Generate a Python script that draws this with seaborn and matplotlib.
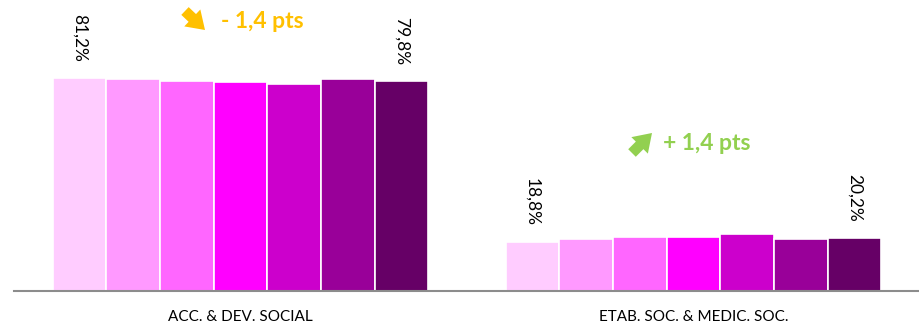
import matplotlib
matplotlib.use("Agg")
import matplotlib.pyplot as plt
from matplotlib.patches import FancyArrowPatch
import seaborn as sns
import pandas as pd

categories = ["ACC. & DEV. SOCIAL", "ETAB. SOC. & MEDIC. SOC."]
series = ["S1", "S2", "S3", "S4", "S5", "S6", "S7"]
values_acc = [81.2, 80.6, 79.9, 79.6, 78.7, 80.6, 79.8]
values_etab = [18.8, 19.7, 20.4, 20.5, 21.6, 19.8, 20.2]
colors = ["#FFCCFF", "#FF99FF", "#FF66FF", "#FF00FF", "#CC00CC", "#990099", "#660066"]
first_last_labels = [["81,2%", "79,8%"], ["18,8%", "20,2%"]]
evolution_texts = ["- 1,4 pts", "+ 1,4 pts"]
evolution_colors = ["#FFC000", "#92D050"]

rows = []
for cat, vals in zip(categories, [values_acc, values_etab]):
    for s, v in zip(series, vals):
        rows.append({"cat": cat, "serie": s, "val": v})
df = pd.DataFrame(rows)

sns.set_style("white")
plt.rcParams["font.family"] = ["Lato", "DejaVu Sans"]

W, H = 920, 322
fig = plt.figure(figsize=(W / 100, H / 100), dpi=100)
ax = fig.add_axes([14 / W, 31 / H, 906 / W, 291 / H])

sns.barplot(data=df, x="cat", y="val", hue="serie", palette=colors,
            saturation=1, width=0.83, edgecolor="white", linewidth=1.2, ax=ax,
            legend=False, order=categories, hue_order=series)

ax.set_xlim(-0.5, 1.5)
ax.set_ylim(0, 110.7)
ax.set_xlabel("")
ax.set_ylabel("")
ax.set_yticks([])
for s in ["top", "left", "right"]:
    ax.spines[s].set_visible(False)
ax.spines["bottom"].set_color("#8C8C8C")
ax.spines["bottom"].set_linewidth(1.5)

ax.set_xticks([0, 1])
ax.set_xticklabels(categories, fontsize=11, color="#000000")
ax.tick_params(axis="x", which="major", length=0, pad=13.5)
ax.set_xticks([-0.5, 0.5, 1.5], minor=True)
ax.tick_params(axis="x", which="minor", length=7, width=1.5, color="#8C8C8C",
               direction="out")

# value labels on first and last bar of each group
containers = ax.containers
for gi in range(len(categories)):
    first_bar = containers[0][gi]
    last_bar = containers[-1][gi]
    for bar, lab in zip([first_bar, last_bar], first_last_labels[gi]):
        x = bar.get_x() + bar.get_width() / 2
        y = bar.get_height()
        ax.annotate(lab, xy=(x, y), xytext=(0, 16), textcoords="offset pixels",
                    rotation=270, ha="center", va="bottom", fontsize=12.5,
                    color="#000000")

# evolution annotations
fig.text(262 / W, 1 - 21 / H, evolution_texts[0], color=evolution_colors[0],
         fontsize=16.5, fontweight="bold", ha="center", va="center")
fig.text(707 / W, 1 - 143 / H, evolution_texts[1], color=evolution_colors[1],
         fontsize=16.5, fontweight="bold", ha="center", va="center")

arrow_style = "simple,head_length=0.9,head_width=1.2,tail_width=0.55"
# (tail_x, tail_y, head_x, head_y) in pixels from top-left
for (xt, yt, xh, yh), col in [((185, 11, 205, 30), evolution_colors[0]),
                              ((632, 153, 652, 133), evolution_colors[1])]:
    fig.add_artist(FancyArrowPatch(
        posA=(xt / W, 1 - yt / H), posB=(xh / W, 1 - yh / H),
        transform=fig.transFigure, arrowstyle=arrow_style,
        shrinkA=0, shrinkB=0, mutation_scale=14, color=col, lw=0))

fig.savefig("out.png", dpi=100)
